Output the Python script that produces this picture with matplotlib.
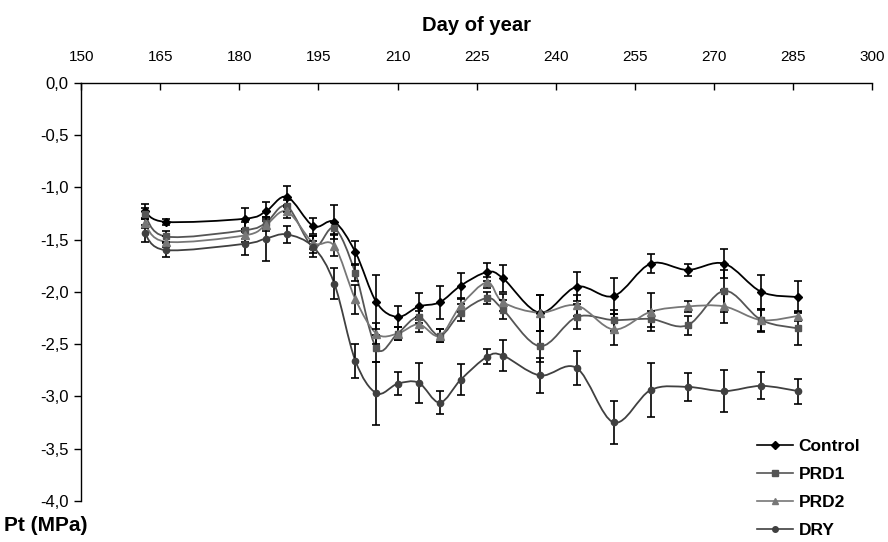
## Leaf water potential over the season
## Four irrigation treatments, smoothed lines with error bars

import numpy as np
import matplotlib.pyplot as plt
from matplotlib.path import Path
from matplotlib.patches import PathPatch
from matplotlib.lines import Line2D
from matplotlib.ticker import FuncFormatter

plt.rcParams['font.family'] = ['Liberation Sans', 'DejaVu Sans']

## Data
days = [162, 166, 181, 185, 189, 194, 198, 202, 206, 210, 214, 218,
        222, 227, 230, 237, 244, 251, 258, 265, 272, 279, 286]

control = [-1.23, -1.33, -1.30, -1.23, -1.09, -1.37, -1.33, -1.62, -2.10, -2.24,
           -2.14, -2.10, -1.94, -1.81, -1.87, -2.20, -1.95, -2.04, -1.73, -1.79,
           -1.73, -2.00, -2.05]
control_err = [0.07, 0.03, 0.10, 0.09, 0.10, 0.08, 0.16, 0.11, 0.26, 0.10, 0.13,
               0.16, 0.12, 0.09, 0.13, 0.17, 0.14, 0.17, 0.09, 0.06, 0.14, 0.16, 0.15]

prd1 = [-1.25, -1.47, -1.41, -1.34, -1.18, -1.57, -1.39, -1.82, -2.54, -2.40,
        -2.24, -2.42, -2.20, -2.06, -2.17, -2.52, -2.24, -2.27, -2.26, -2.32,
        -1.99, -2.27, -2.35]
prd1_err = [0.05, 0.05, 0.08, 0.06, 0.06, 0.06, 0.06, 0.08, 0.13, 0.06, 0.06,
            0.06, 0.08, 0.06, 0.09, 0.15, 0.12, 0.10, 0.08, 0.09, 0.20, 0.10, 0.16]

prd2 = [-1.34, -1.52, -1.46, -1.36, -1.23, -1.53, -1.56, -2.07, -2.40, -2.40,
        -2.31, -2.42, -2.13, -1.91, -2.10, -2.20, -2.13, -2.36, -2.19, -2.14,
        -2.14, -2.27, -2.23]
prd2_err = [0.05, 0.05, 0.06, 0.06, 0.06, 0.06, 0.10, 0.14, 0.10, 0.06, 0.07,
            0.06, 0.06, 0.05, 0.08, 0.17, 0.10, 0.15, 0.18, 0.05, 0.16, 0.11, 0.05]

dry = [-1.44, -1.60, -1.54, -1.49, -1.45, -1.57, -1.92, -2.66, -2.97, -2.88,
       -2.87, -3.06, -2.84, -2.62, -2.61, -2.80, -2.73, -3.25, -2.94, -2.91,
       -2.95, -2.90, -2.95]
dry_err = [0.08, 0.07, 0.11, 0.21, 0.08, 0.10, 0.15, 0.16, 0.30, 0.11, 0.19,
           0.11, 0.15, 0.07, 0.15, 0.17, 0.16, 0.21, 0.26, 0.13, 0.20, 0.13, 0.12]

series = [
    ('Control', control, control_err, '#000000', 'D', 4.5),
    ('PRD1', prd1, prd1_err, '#555555', 's', 4.5),
    ('PRD2', prd2, prd2_err, '#777777', '^', 5.5),
    ('DRY', dry, dry_err, '#404040', 'o', 4.5),
]

## Smoothed line like the spreadsheet one (Catmull-Rom as Bezier)
def smooth_path(x, y):
    p = np.column_stack([x, y]).astype(float)
    verts = [p[0]]
    codes = [Path.MOVETO]
    n = len(p)
    for i in range(n - 1):
        p0 = p[i - 1] if i > 0 else p[i]
        p3 = p[i + 2] if i + 2 < n else p[i + 1]
        c1 = p[i] + (p[i + 1] - p0) / 6
        c2 = p[i + 1] - (p3 - p[i]) / 6
        verts += [c1, c2, p[i + 1]]
        codes += [Path.CURVE4] * 3
    return Path(verts, codes)

fig = plt.figure(figsize=(8.88, 5.42), dpi=100)
ax = fig.add_axes([0.0915, 0.076, 0.8905, 0.771])

for name, vals, err, col, mk, ms in series:
    ax.add_patch(PathPatch(smooth_path(days, vals), fill=False,
                           edgecolor=col, lw=1.3, zorder=2))
    ax.errorbar(days, vals, yerr=err, fmt='none', ecolor='black',
                elinewidth=1.2, capsize=3.2, capthick=1.2, zorder=3)
    ax.plot(days, vals, linestyle='none', marker=mk, ms=ms, color=col, zorder=4)

## Axes look
ax.set_xlim(150, 300)
ax.set_ylim(-4, 0)
ax.set_xticks(np.arange(150, 301, 15))
ax.set_yticks(np.arange(-4, 0.01, 0.5))
ax.yaxis.set_major_formatter(FuncFormatter(lambda v, pos: ('%.1f' % v).replace('.', ',')))
ax.xaxis.tick_top()
ax.xaxis.set_label_position('top')
ax.tick_params(axis='x', direction='in', length=5, width=1, labelsize=11, pad=13.5)
ax.tick_params(axis='y', direction='out', length=5, width=1, labelsize=12, pad=4)
for s in ['right', 'bottom']:
    ax.spines[s].set_visible(False)
for s in ['top', 'left']:
    ax.spines[s].set_linewidth(1)
ax.set_xlabel('Day of year', fontsize=14.5, fontweight='bold', labelpad=14)
fig.text(0.005, 0.031, 'Pt (MPa)', fontsize=15, fontweight='bold', va='center', ha='left')

## Legend in the lower right corner
handles = [Line2D([0], [0], color=col, marker=mk, ms=ms - 0.5, lw=1.2)
           for name, vals, err, col, mk, ms in series]
fig.legend(handles, [s[0] for s in series], loc='upper left',
           bbox_to_anchor=(0.8525, 0.19), frameon=False, borderpad=0,
           borderaxespad=0, handlelength=2.1, handletextpad=0.3,
           labelspacing=0.74, prop={'size': 12.5, 'weight': 'bold'})

fig.savefig('out.png', dpi=100)
